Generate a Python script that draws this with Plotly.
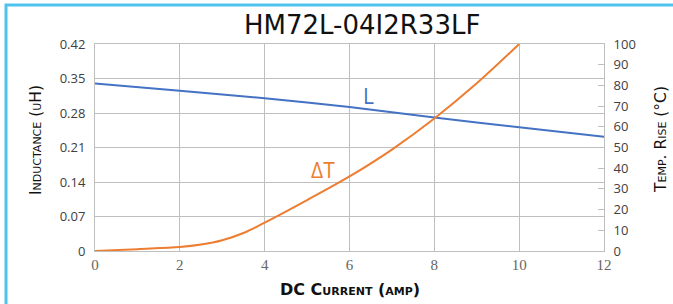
import plotly.graph_objects as go

current_L = [0, 2, 4, 6, 8, 10, 12]
inductance = [0.340, 0.325, 0.310, 0.292, 0.271, 0.251, 0.232]

current_T = [0, 1, 2, 2.5, 3, 3.5, 4, 5, 6, 7, 8, 9, 10]
temp_rise = [0, 0.9, 1.9, 3.1, 5.2, 8.7, 13.7, 24.6, 36, 49, 64, 81, 100]

left_ticks = [0, 0.07, 0.14, 0.21, 0.28, 0.35, 0.42]
left_labels = ["0", "0.07", "0.14", "0.21", "0.28", "0.35", "0.42"]
right_ticks = list(range(0, 101, 10))
x_ticks = [0, 2, 4, 6, 8, 10, 12]

BLUE = "#4472C4"
ORANGE = "#ED7D31"
GRID = "#BFBFBF"

W, H = 673, 304
L, R, T, B = 95, 69, 44, 53
pw, ph = W - L - R, H - T - B

def px(x):
    return (x - L) / pw

def py(y):
    return (H - B - y) / ph

fig = go.Figure()
fig.add_trace(go.Scatter(x=current_L, y=inductance, mode="lines",
                         line=dict(color=BLUE, width=2, shape="spline", smoothing=0.6),
                         yaxis="y", showlegend=False))
fig.add_trace(go.Scatter(x=current_T, y=temp_rise, mode="lines",
                         line=dict(color=ORANGE, width=2, shape="spline", smoothing=1.0),
                         yaxis="y2", showlegend=False))

fig.update_layout(
    width=W, height=H,
    margin=dict(l=L, r=R, t=T, b=B),
    paper_bgcolor="white", plot_bgcolor="white",
    xaxis=dict(range=[0, 12], tickvals=x_ticks, showgrid=True, gridcolor=GRID, gridwidth=1,
               showline=True, linecolor=GRID, mirror=True, zeroline=False,
               ticks="", tickfont=dict(family="Liberation Serif", size=15, color="#666666")),
    yaxis=dict(range=[0, 0.42], tickvals=left_ticks, ticktext=left_labels,
               showgrid=True, gridcolor=GRID, gridwidth=1, zeroline=False,
               showline=True, linecolor=GRID, ticks="", ticklabelstandoff=6,
               tickfont=dict(family="Open Sans", size=13, color="#404040")),
    yaxis2=dict(range=[0, 100], tickvals=right_ticks, overlaying="y", side="right",
                showgrid=False, zeroline=False, showline=True, linecolor=GRID,
                ticks="inside", ticklen=6, tickcolor=GRID, ticklabelstandoff=6,
                tickfont=dict(family="Open Sans", size=13, color="#404040")),
)

# figure border (light blue frame)
fig.add_shape(type="rect", xref="paper", yref="paper",
              x0=px(6), x1=px(W + 40), y0=py(H + 20), y1=py(5),
              line=dict(color="#4FC3F0", width=3), fillcolor="rgba(0,0,0,0)", layer="below")

fig.add_annotation(text="HM72L-04I2R33LF", xref="paper", yref="paper",
                   x=px(362), y=py(25), showarrow=False, xanchor="center", yanchor="middle",
                   font=dict(family="DejaVu Sans", size=26, color="#111111"))
fig.add_annotation(text="DC Current (amp)", xref="paper", yref="paper",
                   x=px(350), y=py(289), showarrow=False, xanchor="center", yanchor="middle",
                   font=dict(family="DejaVu Sans", size=16, color="#111111", weight="bold", variant="small-caps"))
fig.add_annotation(text="Inductance (uH)", xref="paper", yref="paper", textangle=-90,
                   x=px(36), y=py(140), showarrow=False, xanchor="center", yanchor="middle",
                   font=dict(family="DejaVu Sans", size=15.5, color="#111111", variant="small-caps"))
fig.add_annotation(text="Temp. Rise (°C)", xref="paper", yref="paper", textangle=-90,
                   x=px(661), y=py(140), showarrow=False, xanchor="center", yanchor="middle",
                   font=dict(family="DejaVu Sans", size=15.5, color="#111111", variant="small-caps"))
fig.add_annotation(text="L", xref="paper", yref="paper",
                   x=px(368), y=py(96), showarrow=False, xanchor="center", yanchor="middle",
                   font=dict(family="Open Sans", size=21, color=BLUE))
fig.add_annotation(text="ΔT", xref="paper", yref="paper",
                   x=px(323), y=py(170), showarrow=False, xanchor="center", yanchor="middle",
                   font=dict(family="Open Sans", size=21, color=ORANGE))

fig.write_html("out.html", config={"displayModeBar": False},
               post_script="document.body.style.margin='0';document.body.style.overflow='hidden';")
